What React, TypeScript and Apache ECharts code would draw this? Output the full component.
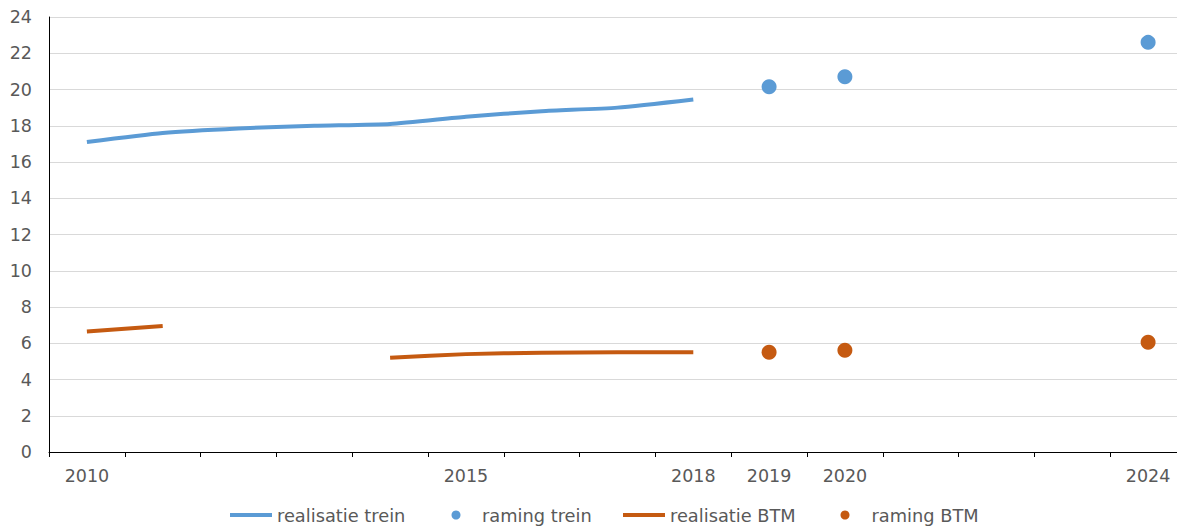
import React, { useEffect, useRef } from "react";
import * as echarts from "echarts";

const years = ["2010","2011","2012","2013","2014","2015","2016","2017","2018","2019","2020","2021","2022","2023","2024"];
const shownLabels = ["2010","2015","2018","2019","2020","2024"];
const realisatieTrein = [17.1, 17.6, 17.85, 18.0, 18.1, 18.5, 18.8, 19.0, 19.45, null, null, null, null, null, null];
const ramingTrein = [null, null, null, null, null, null, null, null, null, 20.15, 20.7, null, null, null, 22.6];
const realisatieBTM = [6.65, 6.95, null, null, 5.2, 5.4, 5.48, 5.5, 5.5, null, null, null, null, null, null];
const ramingBTM = [null, null, null, null, null, null, null, null, null, 5.5, 5.62, null, null, null, 6.05];
const yTicks = { min: 0, max: 24, interval: 2 };

const BLUE = "#5B9BD5";
const ORANGE = "#C55A11";
const TEXT = "#595959";
const FONT = "DejaVu Sans";

export default function App() {
  const ref = useRef<HTMLDivElement>(null);
  useEffect(() => {
    if (!ref.current) return;
    const chart = echarts.init(ref.current, undefined, { renderer: "svg" });
    const legendBase = (left: number, name: string, line: boolean, pad: number) => ({
      left,
      top: 506,
      padding: 0,
      orient: "horizontal",
      icon: line ? "rect" : "circle",
      itemWidth: line ? 42 : 9,
      itemHeight: line ? 4 : 9,
      data: [name],
      textStyle: {
        color: TEXT,
        fontFamily: FONT,
        fontSize: 17.8,
        padding: [0, 0, 0, pad],
      },
      selectedMode: false,
    });
    chart.setOption({
      animation: false,
      backgroundColor: "#ffffff",
      grid: { left: 49, top: 17, height: 435, width: 1137, containLabel: false },
      legend: [
        legendBase(230, "realisatie trein", true, 0),
        legendBase(451.5, "raming trein", false, 16.5),
        legendBase(623, "realisatie BTM", true, 0),
        legendBase(840.5, "raming BTM", false, 17),
      ],
      xAxis: {
        type: "category",
        data: years,
        boundaryGap: true,
        axisLine: { lineStyle: { color: "#000000", width: 1 } },
        axisTick: { show: true, interval: 0, length: 5, lineStyle: { color: "#000000" } },
        axisLabel: {
          interval: (_i: number, v: string) => shownLabels.includes(v),
          color: TEXT,
          fontFamily: FONT,
          fontSize: 17.5,
          margin: 15,
        },
        splitLine: { show: false },
      },
      yAxis: {
        type: "value",
        min: yTicks.min,
        max: yTicks.max,
        interval: yTicks.interval,
        axisLine: { show: true, lineStyle: { color: "#000000", width: 1 } },
        axisTick: { show: false },
        axisLabel: { color: TEXT, fontFamily: FONT, fontSize: 17.5, margin: 17 },
        splitLine: { lineStyle: { color: "#D9D9D9", width: 1 } },
      },
      series: [
        {
          name: "realisatie trein",
          type: "line",
          data: realisatieTrein,
          symbol: "none",
          smooth: 0.2,
          connectNulls: false,
          lineStyle: { color: BLUE, width: 4 },
          itemStyle: { color: BLUE },
        },
        {
          name: "raming trein",
          type: "scatter",
          data: ramingTrein,
          symbol: "circle",
          symbolSize: 15,
          itemStyle: { color: BLUE, opacity: 1 },
        },
        {
          name: "realisatie BTM",
          type: "line",
          data: realisatieBTM,
          symbol: "none",
          smooth: 0.2,
          connectNulls: false,
          lineStyle: { color: ORANGE, width: 4 },
          itemStyle: { color: ORANGE },
        },
        {
          name: "raming BTM",
          type: "scatter",
          data: ramingBTM,
          symbol: "circle",
          symbolSize: 15,
          itemStyle: { color: ORANGE, opacity: 1 },
        },
      ],
    });
    return () => chart.dispose();
  }, []);
  return (
    <div
      style={{ position: "absolute", left: 0, top: 0, width: 1177, height: 528, overflow: "hidden", background: "#fff" }}
    >
      <div ref={ref} style={{ width: 1200, height: 528 }} />
    </div>
  );
}
